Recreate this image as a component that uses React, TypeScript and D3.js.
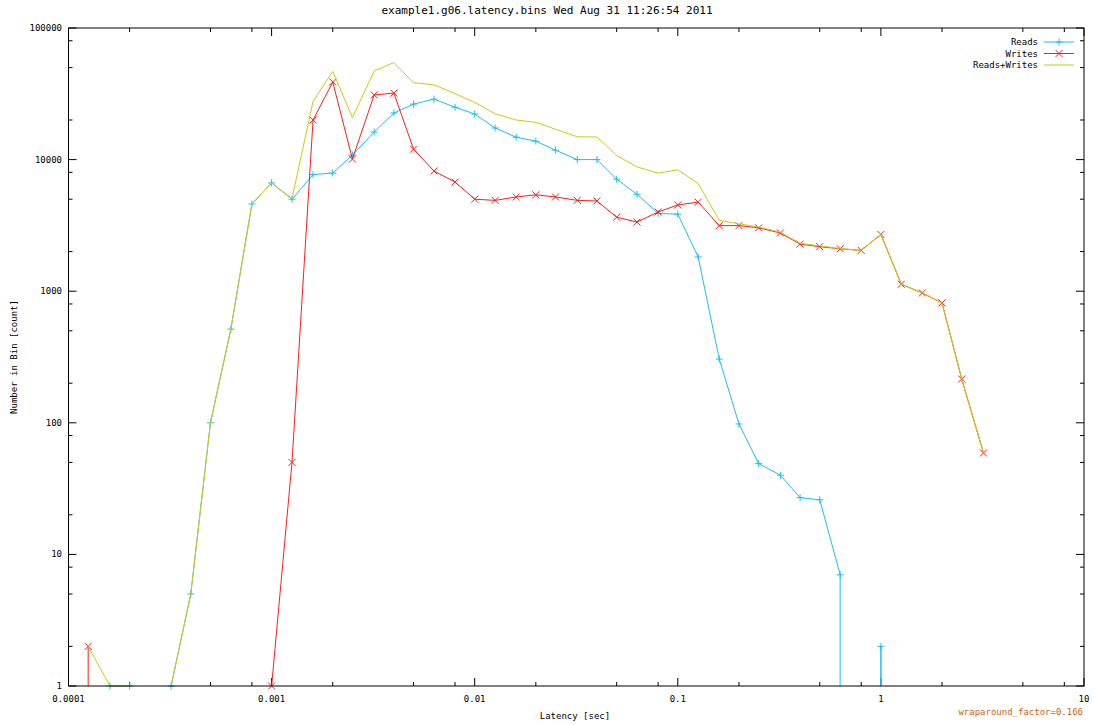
import React from "react";
import * as d3 from "d3";

// latency bins (sec)
const latency = [
  0.000125, 0.00016, 0.0002, 0.00025, 0.00032, 0.0004, 0.0005, 0.00063, 0.0008,
  0.001, 0.00126, 0.0016, 0.002, 0.0025, 0.0032, 0.004, 0.005, 0.0063, 0.008,
  0.01, 0.0126, 0.016, 0.02, 0.025, 0.032, 0.04, 0.05, 0.063, 0.08,
  0.1, 0.126, 0.16, 0.2, 0.25, 0.32, 0.4, 0.5, 0.63, 0.8,
  1, 1.26, 1.6, 2, 2.5, 3.2,
];

// counts per bin, 0 = empty bin
const reads = [
  0, 1, 1, 0, 1, 5, 100, 515, 4600,
  6650, 5000, 7700, 7900, 10800, 16200, 22600, 26400, 28800, 25000,
  22200, 17400, 14800, 13800, 11800, 10000, 10000, 7100, 5450, 3900,
  3850, 1820, 305, 98, 49, 40, 27, 26, 7, 0,
  2, 0, 0, 0, 0, 0,
];
const writes = [
  2, 0, 0, 0, 0, 0, 0, 0, 0,
  1, 50, 20000, 38900, 10100, 31000, 32000, 12000, 8200, 6750,
  5000, 4900, 5200, 5400, 5200, 4900, 4850, 3650, 3350, 4000,
  4520, 4750, 3150, 3150, 3030, 2770, 2280, 2180, 2100, 2040,
  2700, 1130, 970, 815, 215, 59,
];
const readsWrites = [
  2, 1, 1, 0, 1, 5, 100, 515, 4600,
  6651, 5050, 27700, 46800, 20900, 47200, 54600, 38400, 37000, 31750,
  27200, 22300, 20000, 19200, 17000, 14900, 14850, 10750, 8800, 7900,
  8370, 6570, 3455, 3250, 3080, 2810, 2310, 2210, 2110, 2040,
  2700, 1130, 970, 815, 215, 59,
];

const xMajor = [0.0001, 0.001, 0.01, 0.1, 1, 10];
const xLabels = ["0.0001", "0.001", "0.01", "0.1", "1", "10"];
const yMajor = [1, 10, 100, 1000, 10000, 100000];
const yLabels = ["1", "10", "100", "1000", "10000", "100000"];
const minorSteps = [2, 5, 8];

const W = 1094;
const H = 725;
const L = 68.5;
const R = 1084;
const T = 28;
const B = 686;
const FONT = "'DejaVu Sans Mono', monospace";

const x = d3.scaleLog().domain([0.0001, 10]).range([L, R]);
const y = d3.scaleLog().domain([1, 100000]).range([B, T]);

// gnuplot style: a segment to an empty bin is clipped straight down to the axis
function seriesPath(vals: number[]) {
  let d = "";
  for (let i = 0; i < vals.length - 1; i++) {
    const a = vals[i];
    const b = vals[i + 1];
    if (a > 0 && b > 0) {
      d += `M${x(latency[i])},${y(a)}L${x(latency[i + 1])},${y(b)}`;
    } else if (a > 0) {
      d += `M${x(latency[i])},${y(a)}L${x(latency[i])},${B}`;
    } else if (b > 0) {
      d += `M${x(latency[i + 1])},${B}L${x(latency[i + 1])},${y(b)}`;
    }
  }
  return d;
}

const plus = (cx: number, cy: number, s = 3.5) =>
  `M${cx - s},${cy}L${cx + s},${cy}M${cx},${cy - s}L${cx},${cy + s}`;
const cross = (cx: number, cy: number, s = 3.5) =>
  `M${cx - s},${cy - s}L${cx + s},${cy + s}M${cx - s},${cy + s}L${cx + s},${cy - s}`;

const series = [
  { name: "Reads", vals: reads, color: "#1ebcf5", marker: plus },
  { name: "Writes", vals: writes, color: "#f52020", marker: cross },
  { name: "Reads+Writes", vals: readsWrites, color: "#cccc10", marker: null },
];

const minors = (majors: number[]) =>
  majors.slice(0, -1).flatMap((m) => minorSteps.map((s) => m * s));

export default function App() {
  const xMinor = minors(xMajor);
  const yMinor = minors(yMajor);
  return (
    <div style={{ position: "absolute", left: 0, top: 0 }}>
      <svg width={W} height={H} style={{ display: "block", background: "#fff" }}>
        <text x={547} y={14} textAnchor="middle" fontFamily={FONT} fontSize={11}>
          example1.g06.latency.bins Wed Aug 31 11:26:54 2011
        </text>

        {/* ticks, mirrored on all four sides */}
        <g stroke="#000" strokeWidth={1}>
          {xMajor.map((v) => (
            <g key={"xM" + v}>
              <line x1={x(v)} x2={x(v)} y1={B} y2={B - 8} />
              <line x1={x(v)} x2={x(v)} y1={T} y2={T + 8} />
            </g>
          ))}
          {xMinor.map((v) => (
            <g key={"xm" + v}>
              <line x1={x(v)} x2={x(v)} y1={B} y2={B - 4} />
              <line x1={x(v)} x2={x(v)} y1={T} y2={T + 4} />
            </g>
          ))}
          {yMajor.map((v) => (
            <g key={"yM" + v}>
              <line x1={L} x2={L + 8} y1={y(v)} y2={y(v)} />
              <line x1={R} x2={R - 8} y1={y(v)} y2={y(v)} />
            </g>
          ))}
          {yMinor.map((v) => (
            <g key={"ym" + v}>
              <line x1={L} x2={L + 4} y1={y(v)} y2={y(v)} />
              <line x1={R} x2={R - 4} y1={y(v)} y2={y(v)} />
            </g>
          ))}
        </g>

        <g fontFamily={FONT} fontSize={9} fill="#000">
          {xMajor.map((v, i) => (
            <text key={"xl" + v} x={x(v)} y={702} textAnchor="middle">
              {xLabels[i]}
            </text>
          ))}
          {yMajor.map((v, i) => (
            <text key={"yl" + v} x={62} y={y(v) + 3} textAnchor="end">
              {yLabels[i]}
            </text>
          ))}
          <text x={575} y={719} textAnchor="middle">Latency [sec]</text>
          <text transform="translate(17,357) rotate(-90)" textAnchor="middle">
            Number in Bin [count]
          </text>
          <text x={1083} y={715} textAnchor="end" fill="#c86414">
            wraparound_factor=0.166
          </text>
        </g>

        {series.map((s) => (
          <g key={s.name} stroke={s.color} strokeWidth={1} fill="none">
            <path d={seriesPath(s.vals)} />
            {s.marker &&
              s.vals.map((v, i) =>
                v > 0 ? <path key={i} d={s.marker!(x(latency[i]), y(v))} /> : null
              )}
          </g>
        ))}

        {/* legend */}
        <g fontFamily={FONT} fontSize={9}>
          {series.map((s, i) => {
            const ly = 42 + i * 11.5;
            return (
              <g key={"lg" + s.name}>
                <text x={1038} y={ly + 3} textAnchor="end" fill="#000">
                  {s.name}
                </text>
                <line x1={1044} x2={1074} y1={ly} y2={ly} stroke={s.color} />
                {s.marker && <path d={s.marker(1059, ly)} stroke={s.color} fill="none" />}
              </g>
            );
          })}
        </g>

        <rect x={L} y={T} width={R - L} height={B - T} fill="none" stroke="#000" strokeWidth={1} />
      </svg>
    </div>
  );
}
